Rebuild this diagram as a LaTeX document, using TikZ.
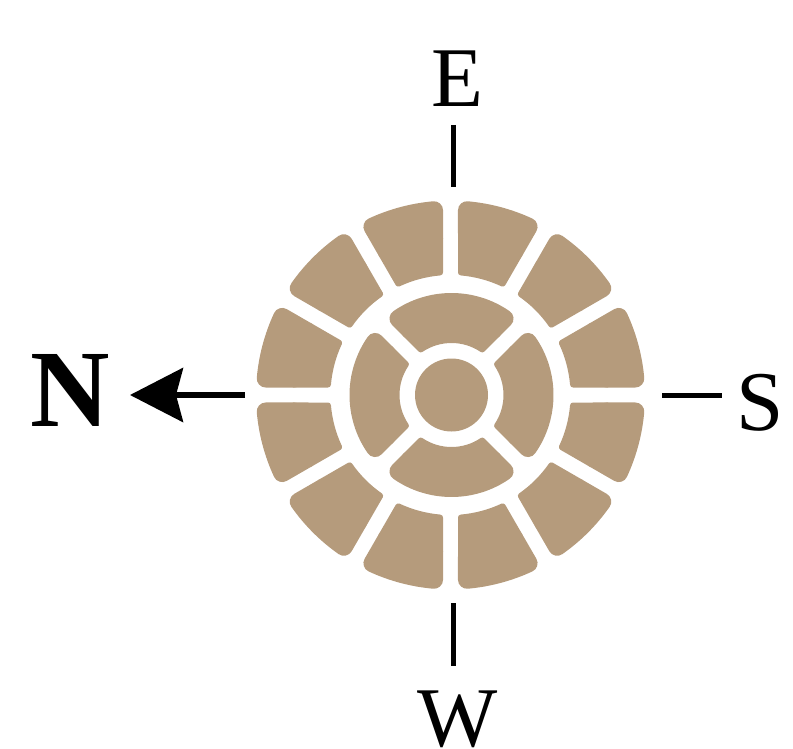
\documentclass[tikz,border=0pt]{standalone}
\usepackage{fontspec}
\setmainfont{Liberation Serif}
\usetikzlibrary{arrows.meta}
\definecolor{stone}{HTML}{B59B7C}
\tikzset{x=1pt,y=1pt,
 stone outer/.style={fill=stone,draw=stone,line width=18pt,line join=round},
 stone inner/.style={fill=stone,draw=stone,line width=6pt,line join=round},
 tickline/.style={line width=5pt,black},
 pointer/.style={line width=5.5pt,black,-{Stealth[length=53pt,width=54pt,inset=7pt]}},
 lab/.style={inner sep=0pt,anchor=base,text=black,font=\fontsize{85}{85}\selectfont},
 boldlab/.style={inner sep=0pt,anchor=base,text=black,font=\fontsize{110}{110}\selectfont\bfseries}}
% band of a ring from radius #1 to #2, angles #3 to #4, sides kept at a fixed distance #5 from the radial gap axis
\newcommand{\ringband}[6]{%
 \pgfmathsetmacro{\ai}{asin(#5/#1)}\pgfmathsetmacro{\ao}{asin(#5/#2)}%
 \pgfmathsetmacro{\bia}{#3+\ai}\pgfmathsetmacro{\bib}{#4-\ai}%
 \pgfmathsetmacro{\boa}{#3+\ao}\pgfmathsetmacro{\bob}{#4-\ao}%
 \path[#6] (\boa:#2) arc[start angle=\boa,end angle=\bob,radius=#2]
   -- (\bib:#1) arc[start angle=\bib,end angle=\bia,radius=#1] -- cycle;
}
% #1 inner radius, #2 outer radius, #3 start angle, #4 end angle: outer corners rounder than inner ones, gap half-width 7.5
\newcommand{\ringseg}[4]{%
 \pgfmathsetmacro{\rmid}{(#1+#2)/2}\pgfmathsetmacro{\rin}{#1+3}\pgfmathsetmacro{\rout}{#2-9}%
 \edef\dorings{\noexpand\ringband{\rmid}{\rout}{#3}{#4}{16.5}{stone outer}\noexpand\ringband{\rin}{\rmid}{#3}{#4}{10.5}{stone inner}}%
 \dorings
}
\begin{document}
\begin{tikzpicture}
\useasboundingbox (0,-749) rectangle (793,0);
\coordinate (cen) at (450.5,-395);
\coordinate (cenb) at (451.5,-395);
\begin{scope}[shift={(cen)}]
 \foreach \a in {0,30,...,330} {\ringseg{120}{194.5}{\a}{\a+30}}
\end{scope}
\begin{scope}[shift={(cenb)}]
 \foreach \a in {45,135,225,315} {\ringseg{52}{102}{\a}{\a+90}}
 \fill[stone] (0,0) circle[radius=36.5];
\end{scope}
\node[lab] (E) at (457,-107) {E};
\node[lab] (S) at (760,-430) {S};
\node[lab] (W) at (457.5,-746.5) {W};
\node[boldlab] (N) at (70.5,-426) {N};
\coordinate (etop) at (453,-125); \coordinate (ebot) at (453,-187);
\coordinate (wtop) at (453,-603); \coordinate (wbot) at (453,-666);
\coordinate (sleft) at (662,-395); \coordinate (sright) at (722,-395);
\coordinate (nstart) at (245,-395); \coordinate (ntip) at (130,-395);
\draw[tickline] (etop) -- (ebot);
\draw[tickline] (wtop) -- (wbot);
\draw[tickline] (sleft) -- (sright);
\draw[pointer] (nstart) -- (ntip);
\end{tikzpicture}
\end{document}
